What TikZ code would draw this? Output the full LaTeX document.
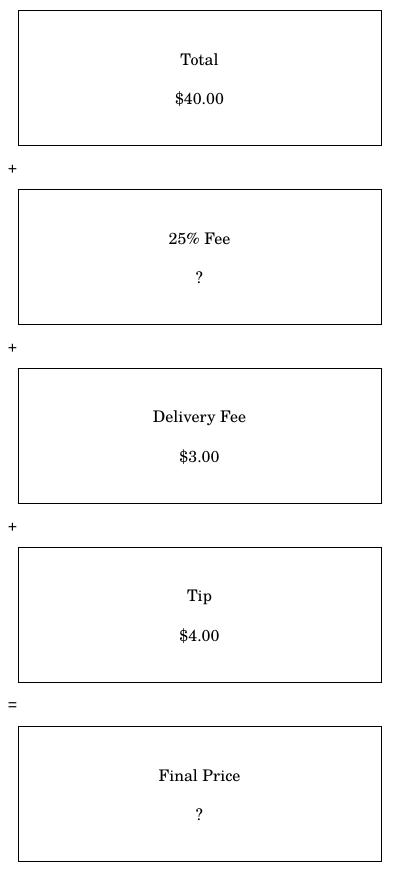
\documentclass[tikz,border=0pt]{standalone}
\usepackage{fontspec}
\setmainfont{TeX Gyre Schola}
\newfontfamily\opfont{Liberation Sans}
\begin{document}
\begin{tikzpicture}[x=1pt,y=-1pt,
  box/.style={draw,line width=0.9pt,minimum width=363pt,minimum height=135pt,inner sep=0pt},
  lbl/.style={font=\fontsize{16}{19}\selectfont,inner sep=0pt},
  op/.style={font=\opfont\fontsize{16}{18}\selectfont,inner sep=0pt}]
\useasboundingbox (0,0) rectangle (400,872);
\foreach \i/\y/\a/\b in {1/77.5/Total/\$40.00, 2/256.5/25\% Fee/?, 3/435.5/Delivery Fee/\$3.00, 4/614.5/Tip/\$4.00, 5/793.5/Final Price/?}{
  \node[box] (b\i) at (199.5,\y) {};
  \node[lbl] (t\i) at (199.5,\y-17.5) {\a};
  \node[lbl] (v\i) at (199.5,\y+21.5) {\b};
}
\node[op] (o1) at (12.5,170) {+};
\node[op] (o2) at (12.5,349) {+};
\node[op] (o3) at (12.5,528) {+};
\node[op] (o4) at (12.5,707) {=};
\end{tikzpicture}
\end{document}
